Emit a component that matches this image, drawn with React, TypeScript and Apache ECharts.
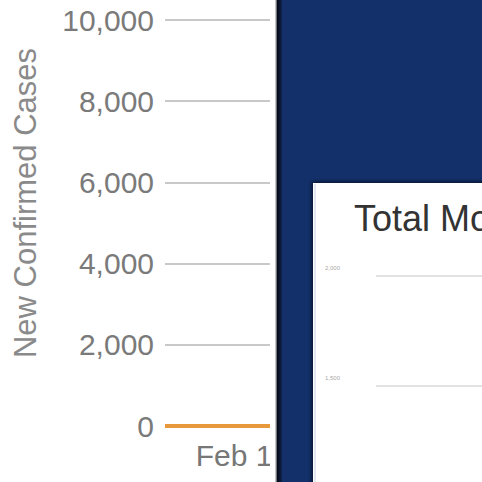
import React, { useEffect, useRef } from "react";
import * as echarts from "echarts";

// Main chart data (weekly, only the start is visible in the reference)
const categories = ["Feb 8", "Feb 15", "Feb 22", "Feb 29", "Mar 7"];
const newCases = [0, 0, 3, 9, 120];
const mainMin = 0;
const mainMax = 10000;
const mainInterval = 2000;

// Inset card ("Total Mo...") axis
const insetTitle = "Total Mortality";
const insetMin = 1500;
const insetMax = 2000;
const insetInterval = 500;

const fmt = (v: number) => Number(v).toLocaleString("en-US");

export default function App() {
  const ref = useRef<HTMLDivElement>(null);

  useEffect(() => {
    if (!ref.current) return;
    const chart = echarts.init(ref.current, undefined, { renderer: "svg" });
    chart.setOption({
      animation: false,
      backgroundColor: "#ffffff",
      textStyle: { fontFamily: "Liberation Sans, Arial, sans-serif" },
      title: {
        text: insetTitle,
        left: 349,
        top: 195,
        z: 300,
        textStyle: { fontSize: 36, fontWeight: "normal", color: "#333333" },
      },
      grid: [
        { left: 165, right: 7, top: 20, bottom: 56, containLabel: false },
        { left: 376, right: -50, top: 276, bottom: 96, containLabel: false },
      ],
      xAxis: [
        {
          type: "category",
          gridIndex: 0,
          data: categories,
          boundaryGap: false,
          axisLine: { show: false },
          axisTick: { show: false },
          axisLabel: {
            interval: (i: number) => i % 2 === 1,
            margin: 14,
            fontSize: 30,
            color: "#777777",
          },
          splitLine: { show: false },
        },
        {
          type: "category",
          gridIndex: 1,
          data: categories,
          show: false,
          z: 200,
        },
      ],
      yAxis: [
        {
          type: "value",
          gridIndex: 0,
          min: mainMin,
          max: mainMax,
          interval: mainInterval,
          axisLine: { show: false },
          axisTick: { show: false },
          axisLabel: {
            margin: 11,
            fontSize: 30,
            color: "#7a7a7a",
            formatter: fmt,
          },
          splitLine: { lineStyle: { color: "#c8c8c8", width: 2 } },
          name: "New Confirmed Cases",
          nameLocation: "middle",
          nameRotate: 90,
          nameGap: 124,
          nameTextStyle: {
            fontSize: 31,
            color: "#8a8a8a",
            padding: [0, 0, 0, 40],
          },
        },
        {
          type: "value",
          gridIndex: 1,
          min: insetMin,
          max: insetMax,
          interval: insetInterval,
          z: 200,
          axisLine: { show: false },
          axisTick: { show: false },
          axisLabel: {
            margin: 36,
            fontSize: 6,
            color: "#a8a8a8",
            formatter: fmt,
            verticalAlign: "bottom",
            lineHeight: 16,
          },
          splitLine: { lineStyle: { color: "#e2e2e2", width: 2 } },
        },
      ],
      series: [
        {
          type: "line",
          xAxisIndex: 0,
          yAxisIndex: 0,
          data: newCases,
          symbol: "none",
          lineStyle: { color: "#e8993b", width: 4 },
          z: 3,
        },
      ],
      graphic: {
        elements: [
          {
            type: "rect",
            z: 100,
            shape: { x: 270, y: 0, width: 7, height: 482 },
            style: { fill: "#ffffff" },
          },
          {
            type: "rect",
            z: 101,
            shape: { x: 275, y: 0, width: 1.5, height: 482 },
            style: { fill: "#c4c7cc" },
          },
          {
            type: "rect",
            z: 101,
            shape: { x: 276.5, y: 0, width: 206, height: 482 },
            style: {
              fill: new echarts.graphic.LinearGradient(0, 0, 1, 0, [
                { offset: 0, color: "#04070f" },
                { offset: 0.02, color: "#0c1a3a" },
                { offset: 0.03, color: "#13306a" },
                { offset: 1, color: "#13306a" },
              ]),
            },
          },
          {
            type: "rect",
            z: 102,
            shape: { x: 313, y: 183, width: 220, height: 330 },
            style: {
              fill: "#ffffff",
              shadowBlur: 4,
              shadowColor: "rgba(0,0,0,0.7)",
              shadowOffsetX: -1,
              shadowOffsetY: -1,
            },
          },
          {
            type: "rect",
            z: 103,
            shape: { x: 314, y: 184, width: 2, height: 330 },
            style: { fill: "#e3e8f0" },
          },
        ],
      },
    });
    return () => chart.dispose();
  }, []);

  return (
    <div
      ref={ref}
      style={{ position: "absolute", left: 0, top: 0, width: 482, height: 482 }}
    />
  );
}
